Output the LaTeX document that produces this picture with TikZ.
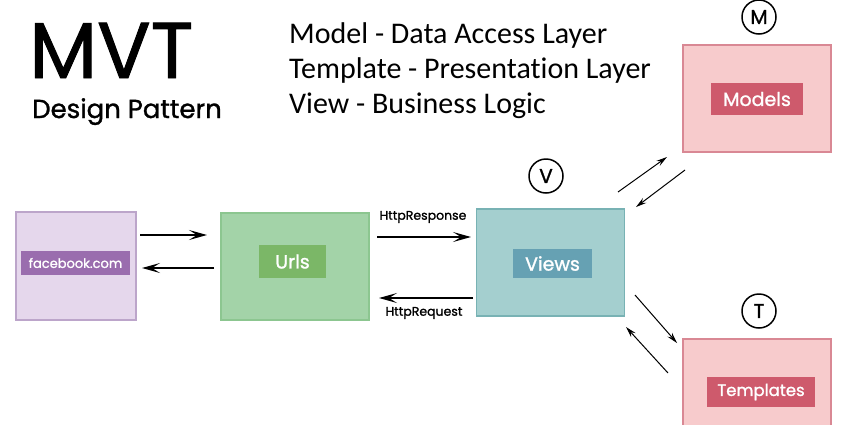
\documentclass[tikz,border=0pt]{standalone}
\usepackage{fontspec}
\setmainfont{Poppins}[FakeBold=1.2]
\newfontfamily\calfont{Carlito}[Ligatures=NoCommon]
\usetikzlibrary{arrows.meta}
\definecolor{fbfill}{HTML}{E5D7EC}
\definecolor{fbline}{HTML}{BCA5CA}
\definecolor{fbtag}{HTML}{9A6DAE}
\definecolor{urlfill}{HTML}{A3D3A8}
\definecolor{urlline}{HTML}{8CC690}
\definecolor{urltag}{HTML}{7BB767}
\definecolor{viewfill}{HTML}{A4CFCF}
\definecolor{viewline}{HTML}{78B2B4}
\definecolor{viewtag}{HTML}{66A1B3}
\definecolor{modfill}{HTML}{F7CBCC}
\definecolor{modline}{HTML}{D98894}
\definecolor{modtag}{HTML}{CE5A6C}
\tikzset{
  box/.style={draw, line width=1.5pt, minimum width=148pt, minimum height=107pt, inner sep=0pt},
  tag/.style={text=white, inner sep=0pt, font=\fontsize{19}{19}\selectfont},
  letter/.style={circle, draw, line width=1.5pt, minimum size=34pt, inner sep=0pt, font=\fontsize{20}{20}\selectfont},
  link/.style={line width=1.4pt, -{Stealth[length=18pt,width=10pt,inset=8pt]}},
  slant/.style={line width=1pt, -{Stealth[length=11pt,width=6pt,inset=4pt]}}
}
\begin{document}
\begin{tikzpicture}[x=1pt,y=-1pt]
\clip (0,0) rectangle (846,424);
\fill[white] (0,0) rectangle (846,424);
% title
\node[anchor=base west, inner sep=0pt, text depth=0pt, font=\fontsize{79}{79}\selectfont] (title) at (29,78) {MVT};
\node[anchor=base west, inner sep=0pt, font=\fontsize{26}{26}\selectfont] (sub) at (32,118) {Design Pattern};
\node[anchor=base west, inner sep=0pt, font=\calfont\fontsize{30}{30}\selectfont] (l1) at (289,43) {Model - Data Access Layer};
\node[anchor=base west, inner sep=0pt, font=\calfont\fontsize{30}{30}\selectfont] (l2) at (289,78) {Template - Presentation Layer};
\node[anchor=base west, inner sep=0pt, font=\calfont\fontsize{30}{30}\selectfont] (l3) at (289,113) {View - Business Logic};
% boxes
\node[box, fill=fbfill, draw=fbline, minimum width=120pt, minimum height=108pt] (fb) at (76,266) {};
\node[box, fill=urlfill, draw=urlline] (urls) at (295,266.5) {};
\node[box, fill=viewfill, draw=viewline] (views) at (550.5,262.5) {};
\node[box, fill=modfill, draw=modline] (models) at (757,98.5) {};
\node[box, fill=modfill, draw=modline] (templates) at (757,392.5) {};
% tags
\node[tag, fill=fbtag, minimum width=109pt, minimum height=24pt, font=\fontsize{13}{13}\selectfont] (fbtag) at (75.5,263) {facebook.com};
\node[tag, fill=urltag, minimum width=67pt, minimum height=33pt] (urlstag) at (292.5,261.5) {Urls};
\node[tag, fill=viewtag, minimum width=79pt, minimum height=29pt] (viewstag) at (552.5,263.5) {Views};
\node[tag, fill=modtag, minimum width=92pt, minimum height=32pt] (modelstag) at (757,99) {Models};
\node[tag, fill=modtag, minimum width=108pt, minimum height=30pt, font=\fontsize{16.5}{16.5}\selectfont] (templatestag) at (761,392) {Templates};
% letters
\node[letter] (M) at (759,17) {M};
\node[letter] (V) at (546,176) {V};
\node[letter] (T) at (759,311) {T};
% arrow ends
\coordinate (a1) at (140,235);
\coordinate (a2) at (207,235);
\coordinate (b1) at (214,268);
\coordinate (b2) at (142,268);
\coordinate (c1) at (377,237);
\coordinate (c2) at (471,237);
\coordinate (d1) at (473,298);
\coordinate (d2) at (379,298);
\coordinate (e1) at (618,192);
\coordinate (e2) at (667,157);
\coordinate (f1) at (685,170);
\coordinate (f2) at (636,207);
\coordinate (g1) at (635,295);
\coordinate (g2) at (677,343);
\coordinate (h1) at (668,373);
\coordinate (h2) at (626,327);
\draw[link] (a1) -- (a2);
\draw[link] (b1) -- (b2);
\draw[link] (c1) -- (c2);
\draw[link] (d1) -- (d2);
\draw[slant] (e1) -- (e2);
\draw[slant] (f1) -- (f2);
\draw[slant] (g1) -- (g2);
\draw[slant] (h1) -- (h2);
\node[font=\fontsize{12.5}{12.5}\selectfont] (resp) at (423,217) {HttpResponse};
\node[font=\fontsize{12.5}{12.5}\selectfont] (req) at (424,313) {HttpRequest};
\end{tikzpicture}
\end{document}
